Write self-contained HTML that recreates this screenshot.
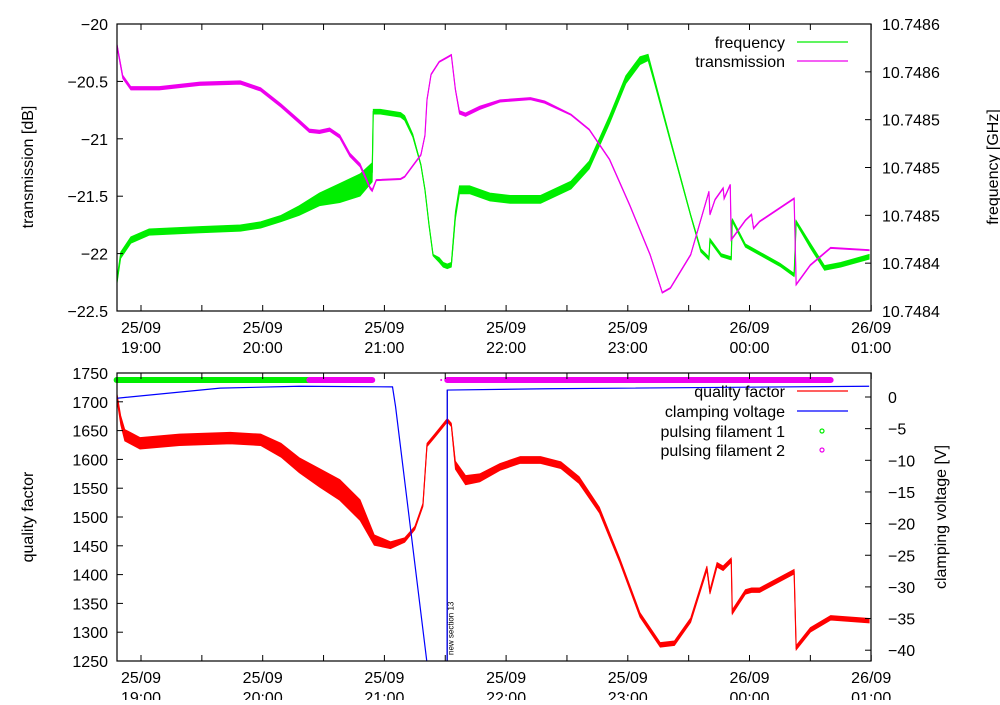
<!DOCTYPE html>
<html><head><meta charset="utf-8"><style>
body{margin:0;background:#fff}
svg text{font-family:"Liberation Sans",sans-serif;font-size:16px;fill:#000}
</style></head><body>
<svg id="c" width="1000" height="700" xmlns="http://www.w3.org/2000/svg">
<defs>
<clipPath id="ct"><rect x="117" y="24" width="754" height="287"/></clipPath>
<clipPath id="cb"><rect x="117" y="373" width="754" height="288"/></clipPath>
</defs>
<g id="g"></g>
</svg>
<script>
// times in minutes since 19:00 on 25/09
const transT=[-12,-9,-5,9,29,49,59,69,78,83,88,93,98,103,108,113,114,116,128,130,138,140,141,143,147,151,153,155,157,160,167,177,192,199,212,221,231,241,251,257,261,271,280,280.5,283,287,287.5,290.5,291,298,301,302,305,322,323,330,340,359];
const transV=[-20.17,-20.46,-20.56,-20.56,-20.52,-20.51,-20.57,-20.71,-20.85,-20.93,-20.94,-20.92,-20.98,-21.14,-21.23,-21.43,-21.45,-21.36,-21.35,-21.33,-21.14,-20.97,-20.66,-20.44,-20.33,-20.29,-20.27,-20.57,-20.77,-20.79,-20.73,-20.67,-20.65,-20.68,-20.79,-20.92,-21.18,-21.58,-22.01,-22.34,-22.30,-22.01,-21.46,-21.66,-21.53,-21.43,-21.52,-21.40,-21.88,-21.71,-21.66,-21.78,-21.72,-21.52,-22.27,-22.10,-21.95,-21.97];
const transN=[0.015,0.015,0.015,0.015,0.015,0.015,0.015,0.015,0.015,0.015,0.015,0.015,0.015,0.015,0.015,0.01,0.01,0.005,0.005,0.005,0.005,0.005,0.005,0.005,0.005,0.005,0.005,0.005,0.015,0.015,0.015,0.01,0.01,0.01,0.005,0.005,0.005,0.005,0.005,0.005,0.005,0.005,0.005,0.005,0.005,0.005,0.005,0.005,0.005,0.005,0.005,0.005,0.005,0.005,0.005,0.005,0.005,0.005];
// frequency: kHz above 10.74842 GHz
const freqT=[-12,-10,-5,4,29,49,59,69,78,88,98,108,114,114.5,118,128,130,134,138,140,142,144,147,149,151,153,155,157,162,172,182,197,212,221,231,239,246,250,253,261,271,276,280,280.5,286,291,291.5,298,315,322,323,330,337,345,359];
const freqV=[17.6,35,44.5,49.5,51,52,54,58,63,70,74,79,87,125,125,123,121,110,91.6,76,54,35,32,29,28,29,60,76,76,71.5,70,70,79,91.6,120,145,157,159,145,107,60,38,33,44.5,35,33,57,41,29,22.6,55.8,41,27,29,34];
const freqN=[2,2,2,2,2,2,2,2,3,4,6,7,6,1.5,1.5,1.5,1.5,1,0.5,0.5,0.5,0.5,1.5,1.5,1.5,1.5,2.5,2.5,2.5,2.5,2.5,2.5,2.5,2.5,2.5,2.5,2.5,2,1.5,1,0.5,1,1,1,1,1,1,1,1,1,1,1.5,1.5,1.5,1.5];
const qT=[-12,-10,-8,-0.5,19,44,59,69,78,88,98,108,115,123,130,135,139,141,145,151,153,155,160,167,177,187,197,207,216,226,236,246,256,263,271,279,280.5,284,287,291,291.5,298,301,305,322,323,330,340,359];
const qV=[1712,1668,1642,1628,1634,1637,1634,1616,1590,1568,1547,1512,1460,1451,1460,1481,1521,1625,1642,1668,1660,1590,1564,1568,1587,1599,1599,1590,1564,1512,1425,1330,1278,1281,1321,1411,1370,1417,1411,1425,1335,1370,1373,1373,1405,1273,1304,1325,1320];
const qN=[6,8,10,10,10,10,10,12,13,16,18,18,9,6,4,3,3,3,3,3,3,7,8,7,6,6,6,6,6,5,4,4,4,4,4,4,4,4,4,4,4,4,4,4,4,4,4,4,4];
const cvT=[-12,39,78,124,125.5,141,null,150.9,151,200,359];
const cvV=[-0.2,1.4,1.7,1.6,-1.5,-42,null,-42,1.1,1.3,1.7];
const pf1=[[-12,83]];
const pf2=[[83,114],[148,148],[151,340]];
const hourTicks=[0,60,120,180,240,300,360];
const dateLabels=["25/09","25/09","25/09","25/09","25/09","26/09","26/09"];
const timeLabels=["19:00","20:00","21:00","22:00","23:00","00:00","01:00"];
const tTicks=[-20,-20.5,-21,-21.5,-22,-22.5];
const tLabels=["−20","−20.5","−21","−21.5","−22","−22.5"];
const fLabels=["10.7486","10.7486","10.7485","10.7485","10.7485","10.7484","10.7484"];
const qTicks=[1750,1700,1650,1600,1550,1500,1450,1400,1350,1300,1250];
const vTicks=[0,-5,-10,-15,-20,-25,-30,-35,-40];

const X=m=>141+m/60*121.7;
const TY=d=>24+(-20-d)*114.8;
const FY=k=>311-k/180*287;
const QY=q=>373+(1750-q)*0.576;
const VY=v=>397-v*6.33;
const g=document.getElementById('g');
const NS='http://www.w3.org/2000/svg';
function mk(t,a,p){const e=document.createElementNS(NS,t);for(const k in a)e.setAttribute(k,a[k]);(p||g).appendChild(e);return e;}
function txt(x,y,s,anchor,p){const e=mk('text',{x:x,y:y,'text-anchor':anchor||'middle'},p);e.textContent=s;return e;}

function series(ts,vs,ns,fy,col,clip,name){
  const gr=mk('g',{'clip-path':'url(#'+clip+')'});
  
  
  if(ns){
    const up=ts.map((t,i)=>X(t)+','+fy(vs[i]+ns[i]));
    const lo=ts.map((t,i)=>X(t)+','+fy(vs[i]-ns[i])).reverse();
    mk('polygon',{points:up.concat(lo).join(' '),fill:col,stroke:col,'stroke-width':0.8},gr);
  }
  mk('polyline',{points:ts.map((t,i)=>X(t)+','+fy(vs[i])).join(' '),fill:'none',stroke:col,'stroke-width':1.2},gr);
}
function seriesBreak(ts,vs,fy,col,clip,name){
  const gr=mk('g',{'clip-path':'url(#'+clip+')'});
  
  
  let pts=[];
  const flush=()=>{if(pts.length)mk('polyline',{points:pts.join(' '),fill:'none',stroke:col,'stroke-width':1.2},gr);pts=[];};
  ts.forEach((t,i)=>{if(t===null)flush();else pts.push(X(t)+','+fy(vs[i]));});flush();
}

series(freqT,freqV,freqN,FY,'#00ee00','ct','frequency-series');
series(transT,transV,transN,TY,'#ee00ee','ct','transmission-series');
const ln=mk('line',{x1:X(151),x2:X(151),y1:QY(1250),y2:390,stroke:'#000','stroke-width':1});


const ns=mk('text',{transform:'translate('+(X(151)+6)+',655) rotate(-90)',style:'font-size:8px'});
ns.textContent='new section 13';


series(qT,qV,qN,QY,'#ff0000','cb','quality-factor-series');
seriesBreak(cvT,cvV,VY,'#0000ff','cb','clamping-voltage-series');
pf1.forEach(r=>{const e=mk('line',{x1:X(r[0]),x2:X(r[1]),y1:380,y2:380,stroke:'#00ee00','stroke-width':6,'stroke-linecap':'round'});
});
pf2.forEach(r=>{const e=mk('line',{x1:X(r[0]),x2:X(r[1]),y1:380,y2:380,stroke:'#ee00ee','stroke-width':r[0]===r[1]?2:6,'stroke-linecap':'round'});
});

[[24,311],[373,661]].forEach((r,pi)=>{
  const fr=mk('rect',{x:117,y:r[0],width:754,height:r[1]-r[0],fill:'none',stroke:'#000','stroke-width':1.2});
  
  
  for(let m=0;m<=360;m+=30){const x=X(m);
    mk('line',{x1:x,x2:x,y1:r[1],y2:r[1]-6,stroke:'#000'});
    mk('line',{x1:x,x2:x,y1:r[0],y2:r[0]+6,stroke:'#000'});}
  hourTicks.forEach((m,i)=>{
    const a=txt(X(m),r[1]+22,dateLabels[i]);
    const b=txt(X(m),r[1]+42,timeLabels[i]);
  });
});
tTicks.forEach((v,i)=>{const y=TY(v);mk('line',{x1:117,x2:123,y1:y,y2:y,stroke:'#000'});
  const e=txt(108,y+6,tLabels[i],'end');});
fLabels.forEach((s,i)=>{const y=24+i*287/6;mk('line',{x1:871,x2:865,y1:y,y2:y,stroke:'#000'});
  const e=txt(882,y+6,s,'start');});
qTicks.forEach(v=>{const y=QY(v);mk('line',{x1:117,x2:123,y1:y,y2:y,stroke:'#000'});
  const e=txt(108,y+6,String(v),'end');});
vTicks.forEach(v=>{const y=VY(v);mk('line',{x1:871,x2:865,y1:y,y2:y,stroke:'#000'});
  const e=txt(888,y+6,v===0?'0':'−'+(-v),'start');});

function rot(x,y,s,name){const e=mk('text',{transform:'translate('+x+','+y+') rotate(-90)','text-anchor':'middle'});e.textContent=s;
  }
rot(33,167,'transmission [dB]','y-axis-title-transmission');
rot(998,167,'frequency [GHz]','y2-axis-title-frequency');
rot(33,517,'quality factor','y-axis-title-quality');
rot(946,517,'clamping voltage [V]','y2-axis-title-voltage');

function leg(y,s,col,pt,name){
  const e=txt(785,y+6,s,'end');
  if(pt)mk('circle',{cx:822,cy:y,r:2,fill:'none',stroke:col,'stroke-width':1.2});
  else mk('line',{x1:797,x2:848,y1:y,y2:y,stroke:col,'stroke-width':1.2});
}
leg(42,'frequency','#00ee00',0,'legend-frequency');
leg(61,'transmission','#ee00ee',0,'legend-transmission');
leg(391,'quality factor','#ff0000',0,'legend-quality-factor');
leg(411,'clamping voltage','#0000ff',0,'legend-clamping-voltage');
leg(431,'pulsing filament 1','#00ee00',1,'legend-pulsing-filament-1');
leg(450,'pulsing filament 2','#ee00ee',1,'legend-pulsing-filament-2');
</script>
</body></html>
